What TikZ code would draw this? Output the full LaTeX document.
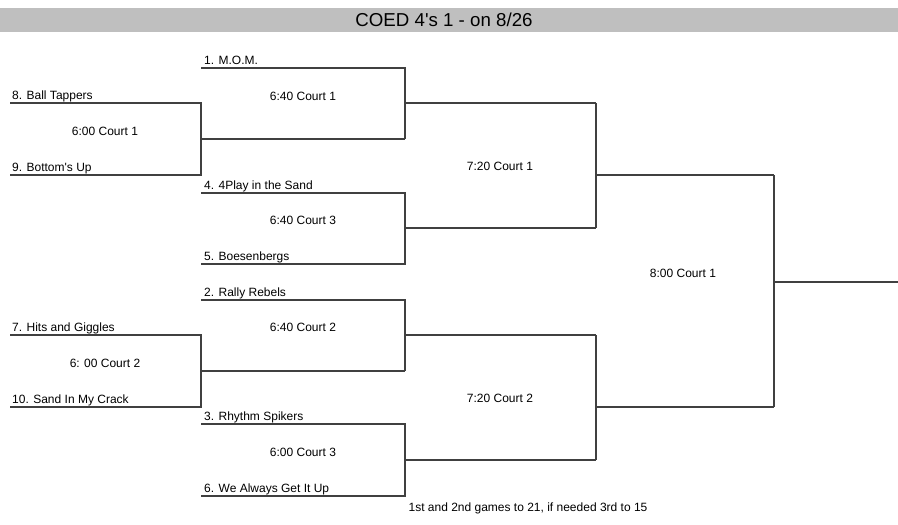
\documentclass[tikz,border=0pt]{standalone}
\usepackage{fontspec}
\setmainfont{Liberation Sans}
\begin{document}
\begin{tikzpicture}[x=1pt,y=-1pt,
  bline/.style={draw=black!75,line width=1.2pt},
  team/.style={anchor=base west,inner sep=0pt,font=\fontsize{12}{14}\selectfont},
  game/.style={anchor=base,inner sep=0pt,font=\fontsize{12}{14}\selectfont},
  titletext/.style={anchor=base,inner sep=0pt,font=\fontsize{18.7}{21}\selectfont}]
\useasboundingbox (0,0) rectangle (898,525);
\fill[black!25] (0,8) rectangle (898,32);
\node[titletext] (title) at (444,26.5) {COED 4\textquotesingle s 1 - on 8/26};

% coordinates: round 1 (left)
\coordinate (a1) at (10,103);  \coordinate (a1e) at (201,103);
\coordinate (a2) at (10,175);  \coordinate (a2e) at (201,175);
\coordinate (aw) at (201,139); \coordinate (awe) at (405,139);
\coordinate (b1) at (10,335);  \coordinate (b1e) at (201,335);
\coordinate (b2) at (10,407);  \coordinate (b2e) at (201,407);
\coordinate (bw) at (201,371); \coordinate (bwe) at (405,371);
% round 2
\coordinate (m1) at (201,68);  \coordinate (m1e) at (405,68);
\coordinate (mw) at (405,103); \coordinate (mwe) at (596,103);
\coordinate (p1) at (201,193); \coordinate (p1e) at (405,193);
\coordinate (p2) at (201,264); \coordinate (p2e) at (405,264);
\coordinate (pw) at (405,228); \coordinate (pwe) at (596,228);
\coordinate (r1) at (201,300); \coordinate (r1e) at (405,300);
\coordinate (rw) at (405,335); \coordinate (rwe) at (596,335);
\coordinate (s1) at (201,424); \coordinate (s1e) at (405,424);
\coordinate (s2) at (201,496); \coordinate (s2e) at (405,496);
\coordinate (sw) at (405,460); \coordinate (swe) at (596,460);
% round 3
\coordinate (tw) at (596,175); \coordinate (twe) at (774,175);
\coordinate (uw) at (596,407); \coordinate (uwe) at (774,407);
\coordinate (fw) at (774,282); \coordinate (fwe) at (898,282);

% bracket lines
\draw[bline] (a1) -- (a1e) -- (a2e) -- (a2);
\draw[bline] (aw) -- (awe);
\draw[bline] (b1) -- (b1e) -- (b2e) -- (b2);
\draw[bline] (bw) -- (bwe);
\draw[bline] (m1) -- (m1e) -- (awe);
\draw[bline] (mw) -- (mwe);
\draw[bline] (p1) -- (p1e) -- (p2e) -- (p2);
\draw[bline] (pw) -- (pwe);
\draw[bline] (r1) -- (r1e) -- (bwe);
\draw[bline] (rw) -- (rwe);
\draw[bline] (s1) -- (s1e) -- (s2e) -- (s2);
\draw[bline] (sw) -- (swe);
\draw[bline] (mwe) -- (pwe);
\draw[bline] (tw) -- (twe);
\draw[bline] (rwe) -- (swe);
\draw[bline] (uw) -- (uwe);
\draw[bline] (twe) -- (uwe);
\draw[bline] (fw) -- (fwe);

% team labels
\node[team] (t8) at (12,99) {8. Ball Tappers};
\node[team] (t9) at (12,171) {9. Bottom\textquotesingle s Up};
\node[team] (t7) at (12,331) {7. Hits and Giggles};
\node[team] (t10) at (12,403) {10. Sand In My Crack};
\node[team] (t1) at (204,64) {1. M.O.M.};
\node[team] (t4) at (204,189) {4. 4Play in the Sand};
\node[team] (t5) at (204,260) {5. Boesenbergs};
\node[team] (t2) at (204,296) {2. Rally Rebels};
\node[team] (t3) at (204,420) {3. Rhythm Spikers};
\node[team] (t6) at (204,492) {6. We Always Get It Up};

% game labels
\node[game] (g1) at (105,135) {6:00 Court 1};
\node[game] (g2) at (303,100) {6:40 Court 1};
\node[game] (g3) at (303,224) {6:40 Court 3};
\node[game] (g4) at (500,170) {7:20 Court 1};
\node[game] (g5) at (683,277) {8:00 Court 1};
\node[game] (g6) at (303,331) {6:40 Court 2};
\node[game] (g7) at (105,367) {6: 00 Court 2};
\node[game] (g8) at (500,402) {7:20 Court 2};
\node[game] (g9) at (303,456) {6:00 Court 3};
\node[game] (foot) at (528,511) {1st and 2nd games to 21, if needed 3rd to 15};
\end{tikzpicture}
\end{document}
